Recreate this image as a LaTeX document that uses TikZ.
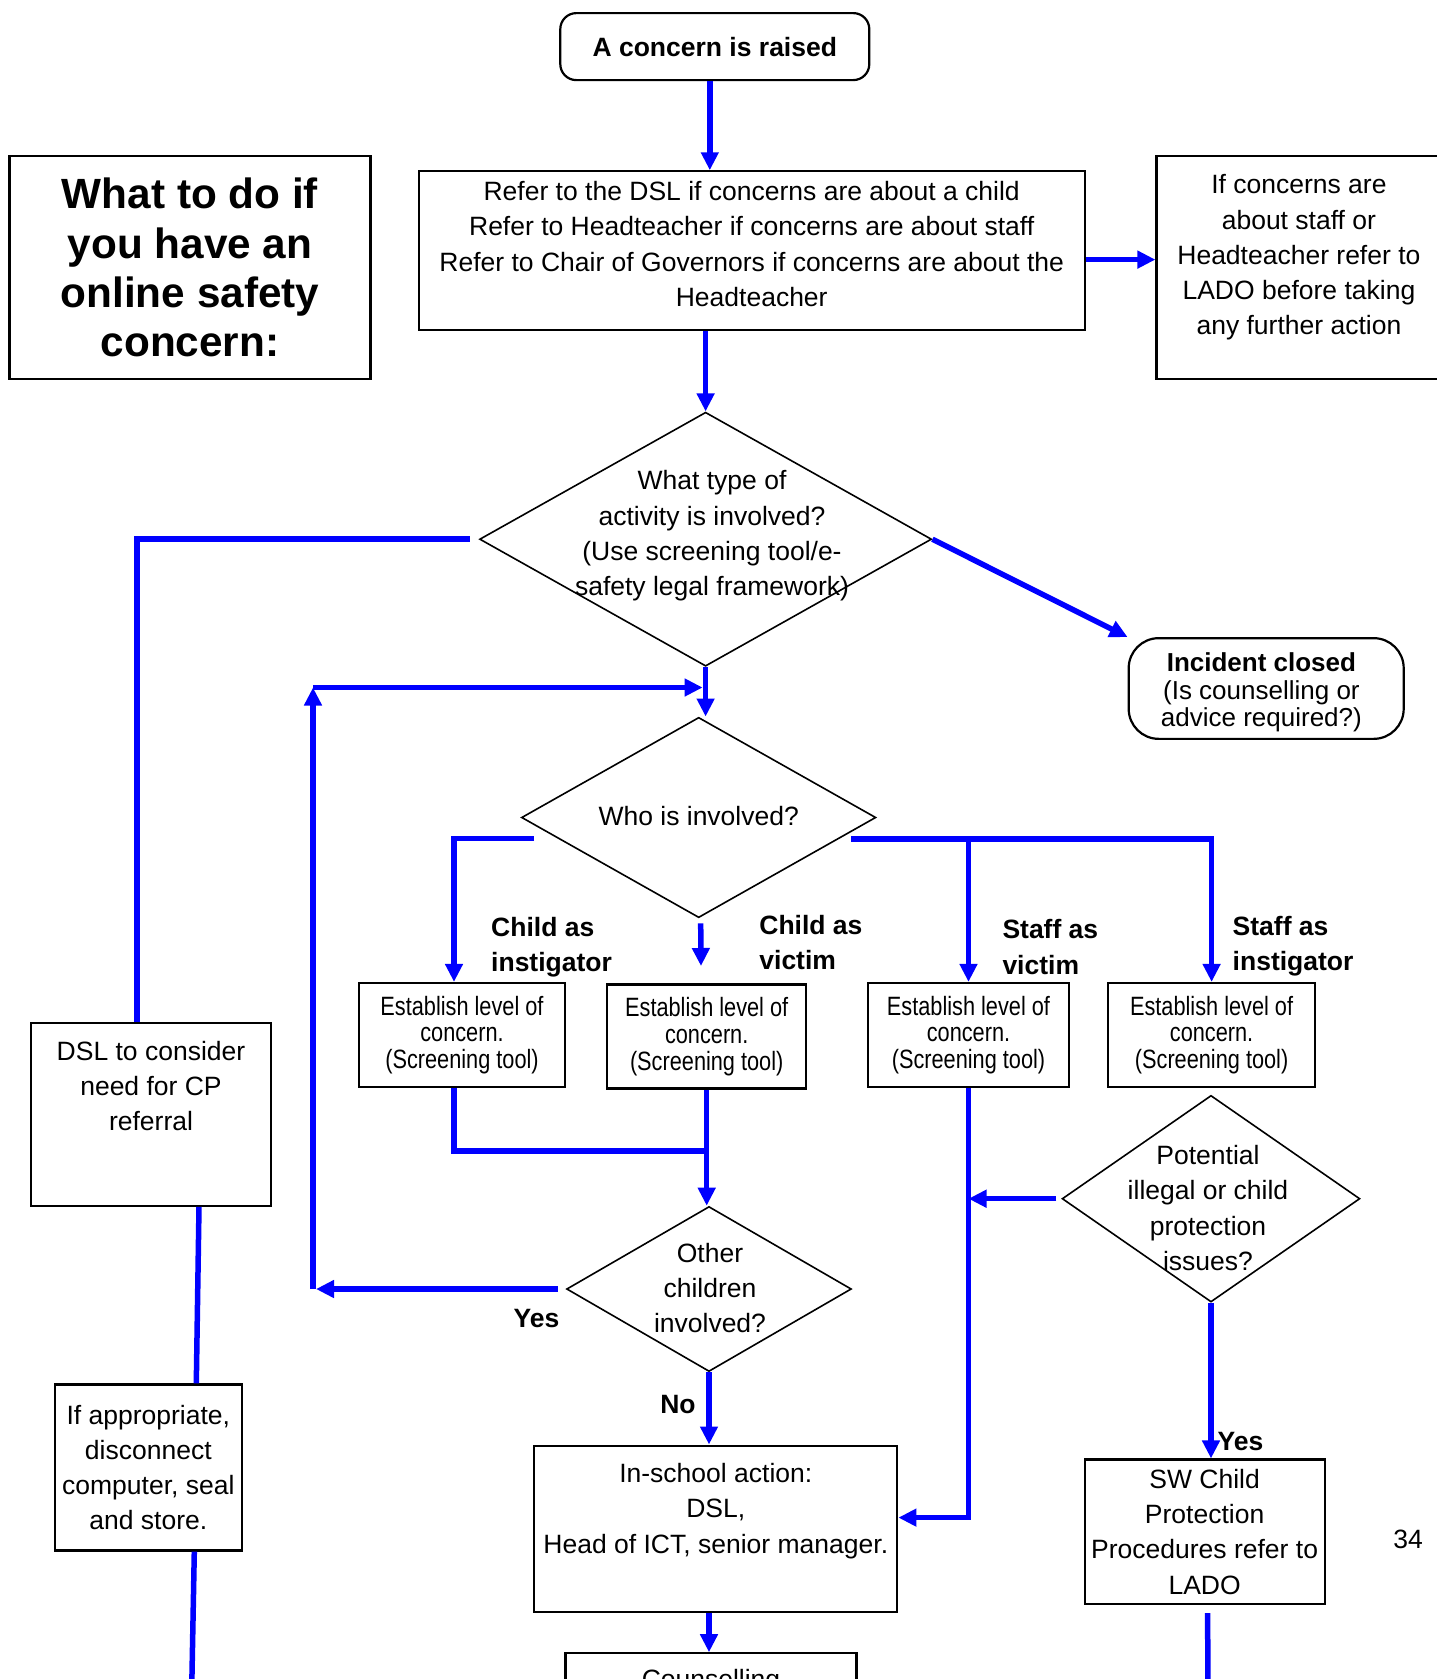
\documentclass[tikz,border=0pt]{standalone}
\usepackage{fontspec}
\setmainfont{Liberation Sans}
\newfontfamily\narrowfont[FakeStretch=0.82]{Liberation Sans}
\usetikzlibrary{arrows.meta,shapes.geometric,calc}

\definecolor{flowblue}{RGB}{0,0,255}
\newcommand{\mainsize}{\fontsize{26.5pt}{35.3pt}\selectfont}
\newcommand{\boldsize}{\fontsize{26.5pt}{35.3pt}\selectfont\bfseries}
\newcommand{\titlesize}{\fontsize{42.3pt}{49.3pt}\selectfont\bfseries}
\newcommand{\estsize}{\narrowfont\fontsize{26.5pt}{26.8pt}\selectfont}
\newcommand{\incsize}{\fontsize{26pt}{27.3pt}\selectfont}

\tikzset{
    box/.style={draw, line width=2.2pt, rectangle, inner sep=0pt, align=center, font=\mainsize},
    roundbox/.style={box, rounded corners=16pt},
    decision/.style={draw, line width=1.6pt, diamond, inner sep=0pt},
    txt/.style={align=center, inner sep=0pt, font=\mainsize},
    lbl/.style={align=left, inner sep=0pt, font=\boldsize},
    line/.style={flowblue, line width=5.5pt},
    flow/.style={line, -{Triangle[length=18pt,width=17pt]}},
}

\begin{document}
\begin{tikzpicture}[x=1pt, y=-1pt]
    \useasboundingbox (0,0) rectangle (1437,1679);

    \node[roundbox, font=\boldsize, minimum width=309pt, minimum height=67pt] (raised) at (714.8,46.6) {A concern is raised};
    \node[box, font=\titlesize, minimum width=361pt, minimum height=223pt] (title) at (190,267.7) {What to do if\\ you have an\\ online safety\\ concern:};

    \node[box, minimum width=666pt, minimum height=158.5pt] (refer) at (751.7,250.6) {};
    \node[txt] (refertext) at (751.7,244) {Refer to the DSL if concerns are about a child\\ Refer to Headteacher if concerns are about staff\\ Refer to Chair of Governors if concerns are about the\\ Headteacher};

    \node[box, minimum width=290pt, minimum height=223pt] (lado) at (1301.5,267.7) {};
    \node[txt] (ladotext) at (1298.9,257.5) {If concerns are\\ about staff or\\ Headteacher refer to\\ LADO before taking\\ any further action};

    \node[decision, minimum width=452pt, minimum height=254pt] (what) at (705.6,539.2) {};
    \node[txt] (whattext) at (712,536) {What type of\\ activity is involved?\\ (Use screening tool/e-\\ safety legal framework)};

    \node[box, rounded corners=30pt, minimum width=275pt, minimum height=100.7pt] (incident) at (1266.2,688.5) {};
    \node[txt, font=\incsize] (incidenttext) at (1261.4,692.5) {\textbf{Incident closed}\\ (Is counselling or\\ advice required?)};

    \node[decision, minimum width=354.4pt, minimum height=200.3pt] (who) at (698.7,817.5) {};
    \node[txt] (whotext) at (698.7,816) {Who is involved?};

    \foreach \n/\x/\y/\w in {est1/462/1035/206.7, est2/706.7/1036.5/199.2, est3/968.5/1035/200.3, est4/1211.6/1035/206.7}
        \node[box, font=\estsize, minimum width=\w pt, minimum height=104pt] (\n) at (\x,\y) {Establish level of\\ concern.\\ (Screening tool)};

    \node[lbl, anchor=west] (childinst) at (491,947) {Child as\\ instigator};
    \node[lbl, anchor=west] (childvic) at (759.2,942.8) {Child as\\ victim};
    \node[lbl, anchor=west] (staffvic) at (1002.3,947) {Staff as\\ victim};
    \node[lbl, anchor=west] (staffinst) at (1232.5,946) {Staff as\\ instigator};

    \node[box, minimum width=240pt, minimum height=183pt] (dsl) at (151,1114.2) {};
    \node[txt] (dsltext) at (151,1086) {DSL to consider\\ need for CP\\ referral};

    \node[box, minimum width=187.4pt, minimum height=166pt] (appr) at (148.3,1467.5) {If appropriate,\\ disconnect\\ computer, seal\\ and store.};

    \node[decision, minimum width=284.8pt, minimum height=165pt] (other) at (709,1289) {};
    \node[txt] (othertext) at (710,1288) {Other\\ children\\ involved?};

    \node[decision, minimum width=297.8pt, minimum height=206.6pt] (pot) at (1211,1198.7) {};
    \node[txt] (pottext) at (1208,1208) {Potential\\ illegal or child\\ protection\\ issues?};

    \node[box, minimum width=363pt, minimum height=166pt] (school) at (715.8,1528.6) {};
    \node[txt] (schooltext) at (715.8,1511) {In-school action:\\ DSL,\\ Head of ICT, senior manager.};

    \node[box, minimum width=240pt, minimum height=144.5pt] (sw) at (1204.6,1531.8) {SW Child\\ Protection\\ Procedures refer to\\ LADO};

    \node[box, anchor=north, minimum width=291pt, minimum height=80pt] (counsel) at (711,1652.2) {};
    \node[txt, anchor=base] (counseltext) at (711,1688) {Counselling};

    \node[lbl] (yesleft) at (536.5,1318) {Yes};
    \node[lbl] (no) at (678,1404) {No};
    \node[lbl] (yesright) at (1240.5,1441) {Yes};
    \node[txt] (page) at (1408,1539) {34};

    \coordinate (loopbot) at (313,1289);
    \coordinate (looptop) at (313,687.5);
    \coordinate (leftfork) at (534,838.5);
    \coordinate (rightfork) at (851,839);
    \coordinate (midtip) at (701,966);
    \coordinate (swout) at (1208,1690);
    \coordinate (approut) at (191.7,1690);

    \draw[flow] ($(raised.south)+(-5,0)$) -- ($(raised.south |- refer.north)+(-5,0)$);
    \draw[flow] ($(refer.east)+(0,9)$) -- ($(refer.east -| lado.west)+(0,9)$);
    \draw[flow] (what.north |- refer.south) -- (what.north);
    \draw[line] ([xshift=-9pt]what.west) -| (dsl.north -| 137,0);
    \draw[flow] (what.east) -- (incident.north west);
    \draw[flow] (what.south) -- (what.south |- who.north);

    \draw[flow] ([xshift=-8pt]other.west) -- ([xshift=3pt]loopbot);
    \draw[flow] (loopbot) -- (looptop);
    \draw[flow, shorten >=3pt] (looptop) -- (looptop -| what.south);

    \draw[flow] (leftfork) -| ([xshift=-8pt]est1.north);
    \draw[flow] ($(who.south)+(2,5)$) -- (midtip);
    \draw[flow] (rightfork) -| (est4.north);
    \draw[flow] (rightfork -| est3.north) -- (est3.north);

    \draw[line] ([xshift=-8pt]est1.south) |- (est2.south |- 0,1151);
    \draw[flow] (est2.south) -- (est2.south |- other.north);
    \draw[flow] (other.south) -- (other.south |- school.north);
    \draw[flow] (other.south |- school.south) -- (other.south |- counsel.north);
    \draw[flow] (est3.south) |- ([yshift=11pt]school.east);
    \draw[flow] ([xshift=-5pt]pot.west) -- (pot.west -| est3.south);
    \draw[flow] (pot.south) -- (pot.south |- sw.north);
    \draw[line] ($(sw.south)+(3,8)$) -- (swout);

    \draw[line] ([xshift=48pt]dsl.south) -- ([xshift=48pt]appr.north);
    \draw[line] ([xshift=46pt]appr.south) -- (approut);
\end{tikzpicture}
\end{document}
